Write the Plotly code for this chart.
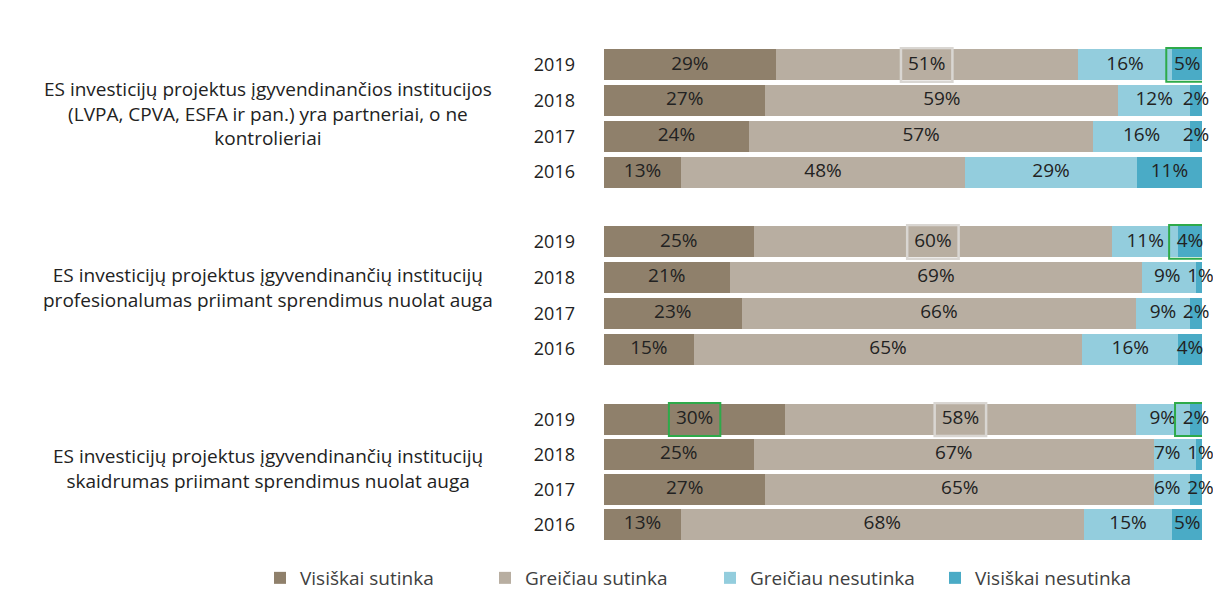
import plotly.graph_objects as go
from plotly.subplots import make_subplots

# data
years = ["2016", "2017", "2018", "2019"]
series = ["Visiškai sutinka", "Greičiau sutinka", "Greičiau nesutinka", "Visiškai nesutinka"]
colors = ["#8f806b", "#b8aea1", "#93cddd", "#4aabc6"]

group_labels = [
    "ES investicijų projektus įgyvendinančios institucijos<br>(LVPA, CPVA, ESFA ir pan.) yra partneriai, o ne<br>kontrolieriai",
    "ES investicijų projektus įgyvendinančių institucijų<br>profesionalumas priimant sprendimus nuolat auga",
    "ES investicijų projektus įgyvendinančių institucijų<br>skaidrumas priimant sprendimus nuolat auga",
]

# values per group, per series, ordered 2016..2019
g1 = [[13, 24, 27, 29], [48, 57, 59, 51], [29, 16, 12, 16], [11, 2, 2, 5]]
g2 = [[15, 23, 21, 25], [65, 66, 69, 60], [16, 9, 9, 11], [4, 2, 1, 4]]
g3 = [[13, 27, 25, 30], [68, 65, 67, 58], [15, 6, 7, 9], [5, 2, 1, 2]]
groups = [g1, g2, g3]

# highlighted labels: (group index, year, series index, box style)
highlights = [
    (0, "2019", 1, "gray"), (0, "2019", 3, "green"),
    (1, "2019", 1, "gray"), (1, "2019", 3, "green"),
    (2, "2019", 0, "green"), (2, "2019", 1, "gray"), (2, "2019", 3, "green"),
]

# the page body has an 8px margin, so the figure sits 8px in from the corner
OFF = 8
W, H = 1221 - 2 * OFF, 590 - OFF
font = "Open Sans"
txt = "#222222"
pct_size = 19
bar_px = 1202 - 604  # pixels for 100 %


def px(x):
    return (x - OFF) / W


def py(y):
    return 1 - (y - OFF) / H


def label_w(t):
    # rough label width in axis units
    return (len(t) - 1) * 0.58 * pct_size / bar_px * 100 + 0.85 * pct_size / bar_px * 100


fig = make_subplots(rows=3, cols=1, shared_xaxes=False)

# pixel layout of each block (top, bottom) and the label's centre line
blocks = [(47, 190), (224, 367), (402, 542)]
label_y = [113, 287, 468]

gap = 6 / bar_px * 100
max_x = (1214 - 604) / bar_px * 100

mids = []
for gi, g in enumerate(groups):
    totals = [sum(g[s][i] for s in range(4)) for i in range(4)]
    gm = {}
    xs, ys, ts = [], [], []
    for s in range(4):
        fig.add_trace(go.Bar(
            y=years, x=g[s], orientation="h", name=series[s],
            marker=dict(color=colors[s], line=dict(width=0)),
            showlegend=(gi == 0), legendgroup=series[s], hoverinfo="skip",
        ), row=gi + 1, col=1)
    for i in range(4):
        cum = 0
        row_m, row_t = [], []
        for s in range(4):
            v = g[s][i] / totals[i] * 100
            row_m.append(cum + v / 2)
            row_t.append(f"{g[s][i]}%")
            cum += v
        # push neighbouring labels apart when they would touch
        for j in range(3):
            need = (label_w(row_t[j]) + label_w(row_t[j + 1])) / 2 + gap
            d = row_m[j + 1] - row_m[j]
            if d < need:
                row_m[j] -= (need - d) / 2
                row_m[j + 1] += (need - d) / 2
        # keep the last label inside the page
        for j in range(3, -1, -1):
            if j == 3:
                cap = max_x - label_w(row_t[3]) / 2
            else:
                cap = row_m[j + 1] - (label_w(row_t[j]) + label_w(row_t[j + 1])) / 2 - gap
            row_m[j] = min(row_m[j], cap)
        for s in range(4):
            gm[(years[i], s)] = row_m[s]
            xs.append(row_m[s])
            ys.append(years[i])
            ts.append(row_t[s])
    mids.append(gm)
    fig.add_trace(go.Scatter(
        x=xs, y=ys, text=ts, mode="text", showlegend=False, hoverinfo="skip",
        textfont=dict(family=font, size=pct_size, color=txt), cliponaxis=False,
    ), row=gi + 1, col=1)

for gi, (top, bot) in enumerate(blocks):
    k = "" if gi == 0 else str(gi + 1)
    fig.layout["xaxis" + k].update(domain=[px(604), px(1202)], range=[0, 100], visible=False, fixedrange=True)
    fig.layout["yaxis" + k].update(
        domain=[py(bot), py(top)], type="category",
        categoryorder="array", categoryarray=years, range=[-0.5, 3.5],
        showgrid=False, zeroline=False, showline=False, ticks="",
        ticklabelstandoff=28, tickfont=dict(family=font, size=18, color=txt),
    )
    fig.add_annotation(
        x=px(268), y=py(label_y[gi]), xref="paper", yref="paper",
        xanchor="center", yanchor="middle",
        text=group_labels[gi], showarrow=False, align="center",
        font=dict(family=font, size=19, color=txt),
    )

for gi, yr, s, style in highlights:
    k = "" if gi == 0 else str(gi + 1)
    m = mids[gi][(yr, s)]
    half = 4.3 if s != 3 else 3.5
    idx = years.index(yr)
    if style == "gray":
        line = dict(color="#d9d6d2", width=2.5)
    else:
        line = dict(color="#2eaa4a", width=2)
    fig.add_shape(type="rect", xref="x" + k, yref="y" + k,
                  x0=m - half, x1=m + half, y0=idx - 0.47, y1=idx + 0.47,
                  line=line, fillcolor="rgba(0,0,0,0)", layer="above")

fig.update_layout(
    width=W, height=H, barmode="stack", barnorm="percent", bargap=0.13,
    margin=dict(l=0, r=0, t=0, b=0, autoexpand=False),
    paper_bgcolor="white", plot_bgcolor="white",
    legend=dict(orientation="h", x=px(260), xanchor="left", y=py(578), yanchor="middle",
                font=dict(family=font, size=19, color="#404040"),
                itemwidth=30, tracegroupgap=0, entrywidthmode="pixels", entrywidth=180),
    font=dict(family=font, color=txt),
)

fig.write_html("out.html")
